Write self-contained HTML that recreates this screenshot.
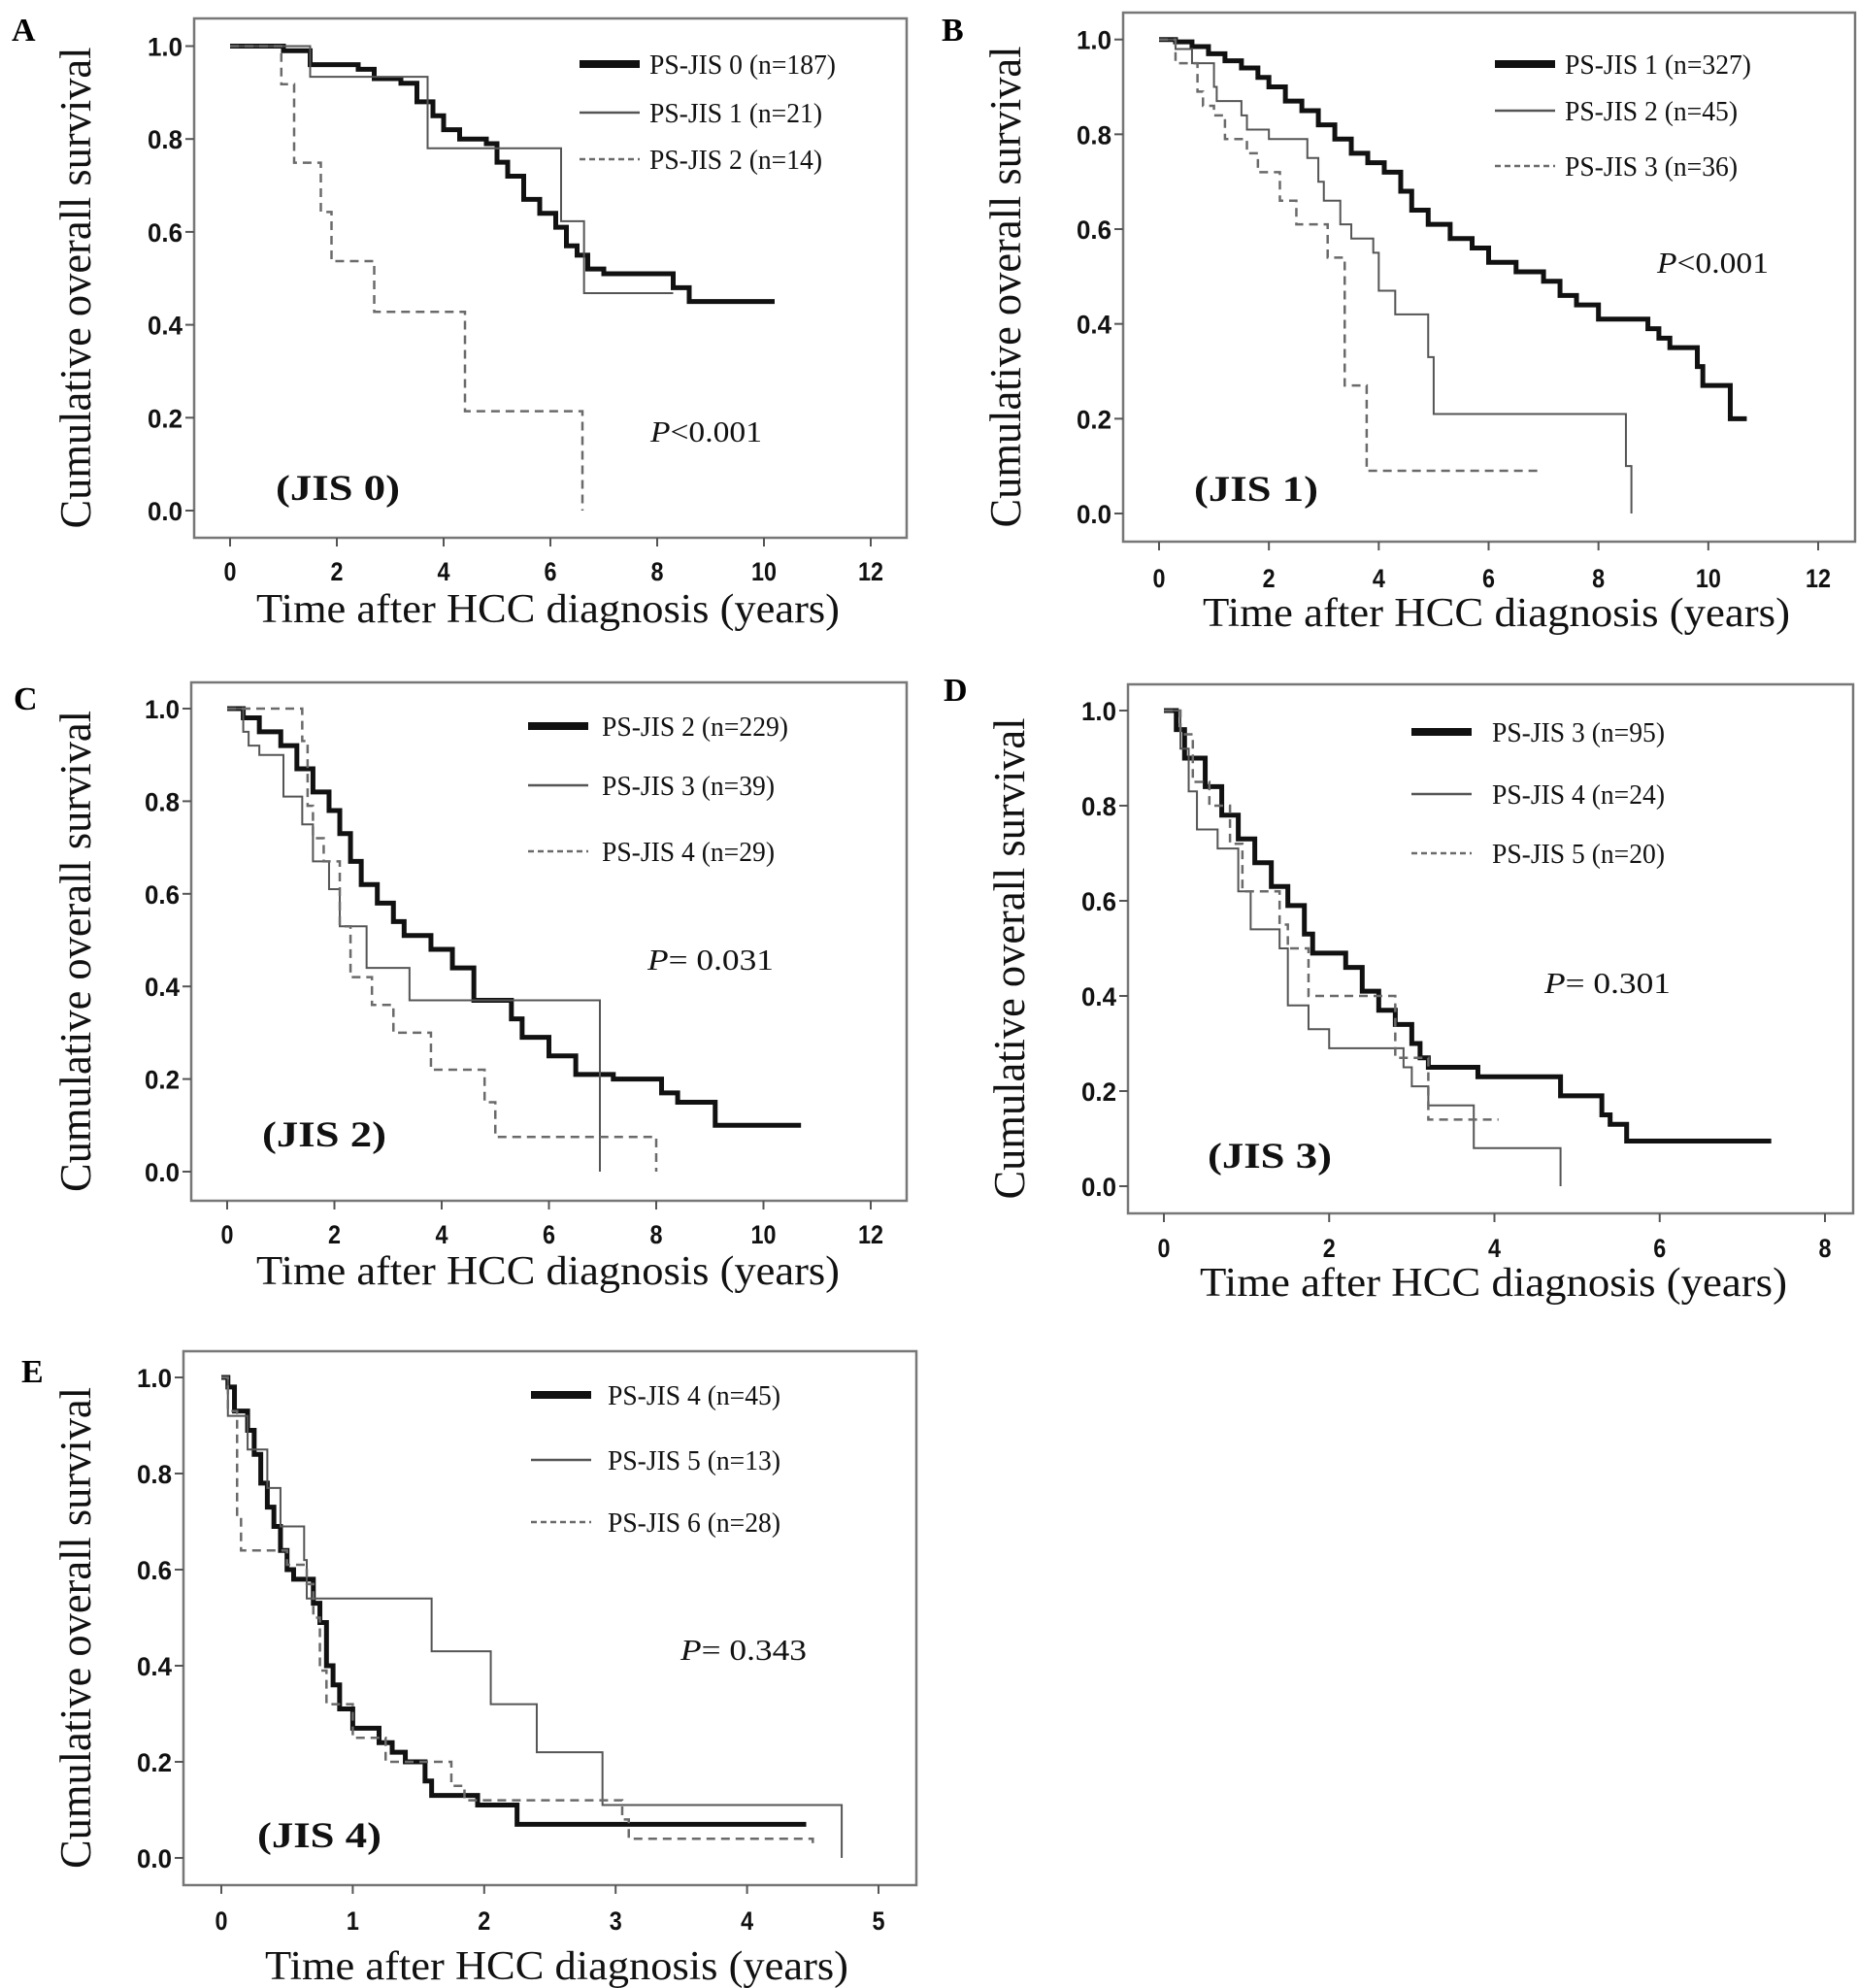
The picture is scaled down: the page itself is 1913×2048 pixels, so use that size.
<!DOCTYPE html>
<html><head><meta charset="utf-8"><style>
html,body{margin:0;padding:0;background:#fff;}
svg{display:block;}
</style></head><body>
<svg id="fig" width="1913" height="2048" viewBox="0 0 1913 2048" xmlns="http://www.w3.org/2000/svg"></svg>
<script>
// ---------- DATA ----------
const yTickLabels = ["0.0","0.2","0.4","0.6","0.8","1.0"];
const yTickValues = [0,0.2,0.4,0.6,0.8,1.0];
const xTicks12 = [0,2,4,6,8,10,12];
const xTicks8 = [0,2,4,6,8];
const xTicks5 = [0,1,2,3,4,5];

// Panel A
const A_names = ["PS-JIS 0 (n=187)","PS-JIS 1 (n=21)","PS-JIS 2 (n=14)"];
const A_s0 = [[0,1],[1.0,0.99],[1.5,0.96],[2.4,0.95],[2.7,0.93],[3.2,0.92],[3.5,0.88],[3.8,0.85],[4.0,0.82],[4.3,0.80],[4.8,0.79],[5.0,0.75],[5.2,0.72],[5.5,0.67],[5.8,0.64],[6.1,0.61],[6.3,0.57],[6.5,0.55],[6.7,0.52],[7.0,0.51],[8.3,0.48],[8.6,0.45]];
const A_s0_end = 10.2;
const A_s1 = [[0,1],[1.5,0.934],[3.7,0.78],[6.2,0.623],[6.63,0.468]];
const A_s1_end = 8.3;
const A_s2 = [[0,1],[0.96,0.918],[1.2,0.749],[1.7,0.643],[1.9,0.537],[2.7,0.428],[4.4,0.214],[6.6,0]];
const A_s2_end = 6.6;

// Panel B
const B_names = ["PS-JIS 1 (n=327)","PS-JIS 2 (n=45)","PS-JIS 3 (n=36)"];
const B_s0 = [[0,1],[0.3,0.995],[0.6,0.985],[0.9,0.97],[1.2,0.955],[1.5,0.94],[1.8,0.92],[2.0,0.9],[2.3,0.87],[2.6,0.85],[2.9,0.82],[3.2,0.79],[3.5,0.76],[3.8,0.74],[4.1,0.72],[4.4,0.68],[4.6,0.64],[4.9,0.61],[5.3,0.58],[5.7,0.56],[6.0,0.53],[6.5,0.51],[7.0,0.49],[7.3,0.46],[7.6,0.44],[8.0,0.41],[8.9,0.39],[9.1,0.37],[9.3,0.35],[9.8,0.31],[9.9,0.27],[10.4,0.2]];
const B_s0_end = 10.7;
const B_s1 = [[0,1],[0.3,0.98],[0.6,0.95],[1,0.9],[1.05,0.87],[1.5,0.84],[1.6,0.81],[2,0.79],[2.7,0.75],[2.9,0.7],[3.0,0.66],[3.3,0.61],[3.5,0.58],[3.9,0.55],[4.0,0.47],[4.3,0.42],[4.9,0.33],[5.0,0.21],[8.5,0.1],[8.6,0]];
const B_s1_end = 8.6;
const B_s2 = [[0,1],[0.3,0.95],[0.7,0.89],[0.8,0.86],[1.0,0.84],[1.2,0.79],[1.6,0.76],[1.8,0.72],[2.2,0.66],[2.5,0.61],[3.07,0.54],[3.38,0.27],[3.78,0.09]];
const B_s2_end = 6.99;

// Panel C
const C_names = ["PS-JIS 2 (n=229)","PS-JIS 3 (n=39)","PS-JIS 4 (n=29)"];
const C_s0 = [[0,1],[0.3,0.98],[0.6,0.95],[1,0.92],[1.3,0.87],[1.6,0.82],[1.9,0.78],[2.1,0.73],[2.3,0.67],[2.5,0.62],[2.8,0.58],[3.1,0.54],[3.3,0.51],[3.8,0.48],[4.2,0.44],[4.6,0.37],[5.3,0.33],[5.5,0.29],[6.0,0.25],[6.5,0.21],[7.2,0.2],[8.1,0.17],[8.4,0.15],[9.1,0.1]];
const C_s0_end = 10.7;
const C_s1 = [[0,1],[0.3,0.95],[0.4,0.92],[0.6,0.90],[1.05,0.81],[1.4,0.75],[1.6,0.67],[1.9,0.61],[2.1,0.53],[2.6,0.44],[3.4,0.37],[6.95,0]];
const C_s1_end = 6.95;
const C_s2 = [[0,1],[1.4,0.93],[1.5,0.79],[1.6,0.72],[1.8,0.67],[2.1,0.53],[2.3,0.42],[2.7,0.36],[3.1,0.3],[3.8,0.22],[4.8,0.15],[5.0,0.075],[8.0,0]];
const C_s2_end = 8.0;

// Panel D
const D_names = ["PS-JIS 3 (n=95)","PS-JIS 4 (n=24)","PS-JIS 5 (n=20)"];
const D_s0 = [[0,1],[0.15,0.96],[0.25,0.9],[0.5,0.84],[0.7,0.78],[0.9,0.73],[1.1,0.68],[1.3,0.63],[1.5,0.59],[1.7,0.53],[1.8,0.49],[2.2,0.46],[2.4,0.41],[2.6,0.37],[2.8,0.34],[3.0,0.30],[3.1,0.27],[3.2,0.25],[3.8,0.23],[4.8,0.19],[5.3,0.15],[5.4,0.13],[5.6,0.095]];
const D_s0_end = 7.35;
const D_s1 = [[0,1],[0.2,0.92],[0.3,0.83],[0.4,0.75],[0.65,0.71],[0.9,0.62],[1.05,0.54],[1.4,0.5],[1.5,0.38],[1.75,0.33],[2.0,0.29],[2.9,0.25],[3.0,0.21],[3.2,0.17],[3.75,0.08],[4.8,0]];
const D_s1_end = 4.8;
const D_s2 = [[0,1],[0.2,0.95],[0.35,0.85],[0.55,0.8],[0.8,0.72],[0.95,0.62],[1.4,0.55],[1.5,0.5],[1.75,0.4],[2.8,0.27],[3.2,0.14]];
const D_s2_end = 4.05;

// Panel E
const E_names = ["PS-JIS 4 (n=45)","PS-JIS 5 (n=13)","PS-JIS 6 (n=28)"];
const E_s0 = [[0,1],[0.05,0.98],[0.1,0.93],[0.2,0.89],[0.25,0.84],[0.3,0.78],[0.35,0.73],[0.4,0.69],[0.45,0.64],[0.5,0.6],[0.55,0.58],[0.7,0.53],[0.75,0.49],[0.8,0.4],[0.85,0.36],[0.9,0.31],[1.0,0.27],[1.2,0.24],[1.3,0.22],[1.4,0.2],[1.55,0.16],[1.6,0.13],[1.95,0.11],[2.25,0.07]];
const E_s0_end = 4.45;
const E_s1 = [[0,1],[0.05,0.92],[0.2,0.85],[0.35,0.77],[0.45,0.69],[0.63,0.62],[0.65,0.54],[1.6,0.43],[2.05,0.32],[2.4,0.22],[2.9,0.11],[4.72,0]];
const E_s1_end = 4.72;
const E_s2 = [[0,1],[0.05,0.93],[0.12,0.71],[0.15,0.64],[0.5,0.61],[0.65,0.57],[0.7,0.5],[0.75,0.39],[0.8,0.32],[1.0,0.25],[1.25,0.2],[1.75,0.15],[1.85,0.12],[3.05,0.08],[3.1,0.04],[4.5,0.02]];
const E_s2_end = 4.5;

// ---------- LAYOUT ----------
const panels = [
 {id:"a",letter:"A",lx:12,ly:42,fx:200,fy:19,fw:734,fh:535,x0:237,x1:897,xmax:12,xt:xTicks12,y1:47.5,y0:526,tickY:588,titleY:628,titleX1:264,titleX2:865,ytX:78,
  legX:597,legText:669,legY:[66,116,164],pX:670,pY:455,pText:"<0.001",pEq:false,jX:284,jY:515,jText:"(JIS 0)",
  names:A_names,series:[[A_s0,A_s0_end],[A_s1,A_s1_end],[A_s2,A_s2_end]]},
 {id:"b",letter:"B",lx:970,ly:42,fx:1157,fy:13,fw:754,fh:545,x0:1194,x1:1873,xmax:12,xt:xTicks12,y1:40.7,y0:529,tickY:595,titleY:632,titleX1:1239,titleX2:1844,ytX:1036,
  legX:1540,legText:1612,legY:[66,114,171],pX:1707,pY:281,pText:"<0.001",pEq:false,jX:1230,jY:516,jText:"(JIS 1)",
  names:B_names,series:[[B_s0,B_s0_end],[B_s1,B_s1_end],[B_s2,B_s2_end]]},
 {id:"c",letter:"C",lx:14,ly:731,fx:197,fy:703,fw:737,fh:534,x0:234,x1:897,xmax:12,xt:xTicks12,y1:730,y0:1207,tickY:1271,titleY:1310,titleX1:264,titleX2:865,ytX:78,
  legX:544,legText:620,legY:[748,809,877],pX:667,pY:999,pText:"0.031",pEq:true,jX:270,jY:1181,jText:"(JIS 2)",
  names:C_names,series:[[C_s0,C_s0_end],[C_s1,C_s1_end],[C_s2,C_s2_end]]},
 {id:"d",letter:"D",lx:972,ly:722,fx:1162,fy:705,fw:747,fh:545,x0:1199,x1:1880,xmax:8,xt:xTicks8,y1:732,y0:1222,tickY:1285,titleY:1322,titleX1:1236,titleX2:1841,ytX:1040,
  legX:1454,legText:1537,legY:[754,818,879],pX:1591,pY:1023,pText:"0.301",pEq:true,jX:1244,jY:1203,jText:"(JIS 3)",
  names:D_names,series:[[D_s0,D_s0_end],[D_s1,D_s1_end],[D_s2,D_s2_end]]},
 {id:"e",letter:"E",lx:22,ly:1424,fx:189,fy:1392,fw:755,fh:550,x0:228,x1:905,xmax:5,xt:xTicks5,y1:1419,y0:1914,tickY:1978,titleY:2026,titleX1:273,titleX2:874,ytX:78,
  legX:547,legText:626,legY:[1437,1504,1568],pX:701,pY:1710,pText:"0.343",pEq:true,jX:265,jY:1903,jText:"(JIS 4)",
  names:E_names,series:[[E_s0,E_s0_end],[E_s1,E_s1_end],[E_s2,E_s2_end]]}
];
const styles = [
 {stroke:"#111",w:5,dash:null,legW:8},
 {stroke:"#555",w:2,dash:null,legW:2.5},
 {stroke:"#6a6a6a",w:2.5,dash:"9,6",legW:2.5}
];
const NS="http://www.w3.org/2000/svg";
const svg=document.getElementById("fig");
function mk(tag,attrs,parent){const e=document.createElementNS(NS,tag);for(const k in attrs)e.setAttribute(k,attrs[k]);(parent||svg).appendChild(e);return e;}
const SERIF="'Liberation Serif', serif";
const SANS="'Liberation Sans', sans-serif";

panels.forEach(p=>{
  const g=mk("g",{});
  
  
  const xs=v=>p.x0+(p.x1-p.x0)*v/p.xmax;
  const ys=v=>p.y0-(p.y0-p.y1)*v;
  const L=mk("text",{x:p.lx,y:p.ly,"font-family":SERIF,"font-weight":"bold","font-size":34},g);
  L.textContent=p.letter;
  
  
  const fr=mk("rect",{x:p.fx,y:p.fy,width:p.fw,height:p.fh,fill:"none",stroke:"#777","stroke-width":2.5},g);
  
  
  yTickValues.forEach((v,i)=>{
    const y=ys(v);
    const t=mk("line",{x1:p.fx-9,x2:p.fx,y1:y,y2:y,stroke:"#555","stroke-width":2},g);
    
    
    const l=mk("text",{x:p.fx-12,y:y+10,"text-anchor":"end","font-family":SANS,"font-weight":"bold","font-size":27,textLength:36,lengthAdjust:"spacingAndGlyphs",fill:"#111"},g);
    l.textContent=yTickLabels[i];
    
    
  });
  p.xt.forEach(v=>{
    const x=xs(v);
    const t=mk("line",{x1:x,x2:x,y1:p.fy+p.fh,y2:p.fy+p.fh+9,stroke:"#555","stroke-width":2},g);
    
    
    const s=String(v);
    const l=mk("text",{x:x,y:p.tickY+10,"text-anchor":"middle","font-family":SANS,"font-weight":"bold","font-size":27,textLength:(s.length>1?26:13),lengthAdjust:"spacingAndGlyphs",fill:"#111"},g);
    l.textContent=s;
    
    
  });
  const xt=mk("text",{x:p.titleX1,y:p.titleY+13,"font-family":SERIF,"font-size":42,textLength:p.titleX2-p.titleX1,lengthAdjust:"spacingAndGlyphs",fill:"#111"},g);
  xt.textContent="Time after HCC diagnosis (years)";
  
  
  const cy=(p.fy+p.fh/2)+10;
  const yt=mk("text",{x:0,y:0,"text-anchor":"middle","font-family":SERIF,"font-size":46,textLength:496,lengthAdjust:"spacingAndGlyphs",fill:"#111",transform:"translate("+(p.ytX+15)+","+cy+") rotate(-90)"},g);
  yt.textContent="Cumulative overall survival";
  
  
  p.series.forEach((s,i)=>{
    const pts=s[0],end=s[1],st=styles[i];
    let d="M"+xs(pts[0][0])+","+ys(pts[0][1]);
    for(let k=1;k<pts.length;k++){d+=" H"+xs(pts[k][0])+" V"+ys(pts[k][1]);}
    d+=" H"+xs(end);
    const a={d:d,fill:"none",stroke:st.stroke,"stroke-width":st.w};
    if(st.dash)a["stroke-dasharray"]=st.dash;
    const path=mk("path",a,g);
    
    
    const ly=p.legY[i];
    const la={x1:p.legX,x2:p.legX+62,y1:ly,y2:ly,stroke:st.stroke,"stroke-width":st.legW};
    if(st.dash)la["stroke-dasharray"]="6,4";
    const ll=mk("line",la,g);
    
    
    const lt=mk("text",{x:p.legText,y:ly+10,"font-family":SERIF,"font-size":29,textLength:(p.names[i].length>15?192:178),lengthAdjust:"spacingAndGlyphs",fill:"#111"},g);
    lt.textContent=p.names[i];
    
    
  });
  const pt=mk("text",{x:p.pX,y:p.pY,"font-family":SERIF,"font-size":31,fill:"#111",textLength:p.pEq?130:115,lengthAdjust:"spacingAndGlyphs"},g);
  const ps=mk("tspan",{"font-style":"italic"},pt);ps.textContent="P";
  const rest=mk("tspan",{},pt);rest.textContent=(p.pEq?"= ":"")+p.pText;
  
  
  const jt=mk("text",{x:p.jX,y:p.jY,"font-family":SERIF,"font-weight":"bold","font-size":37,textLength:128,lengthAdjust:"spacingAndGlyphs",fill:"#111"},g);
  jt.textContent=p.jText;
  
  
});
</script>
</body></html>
